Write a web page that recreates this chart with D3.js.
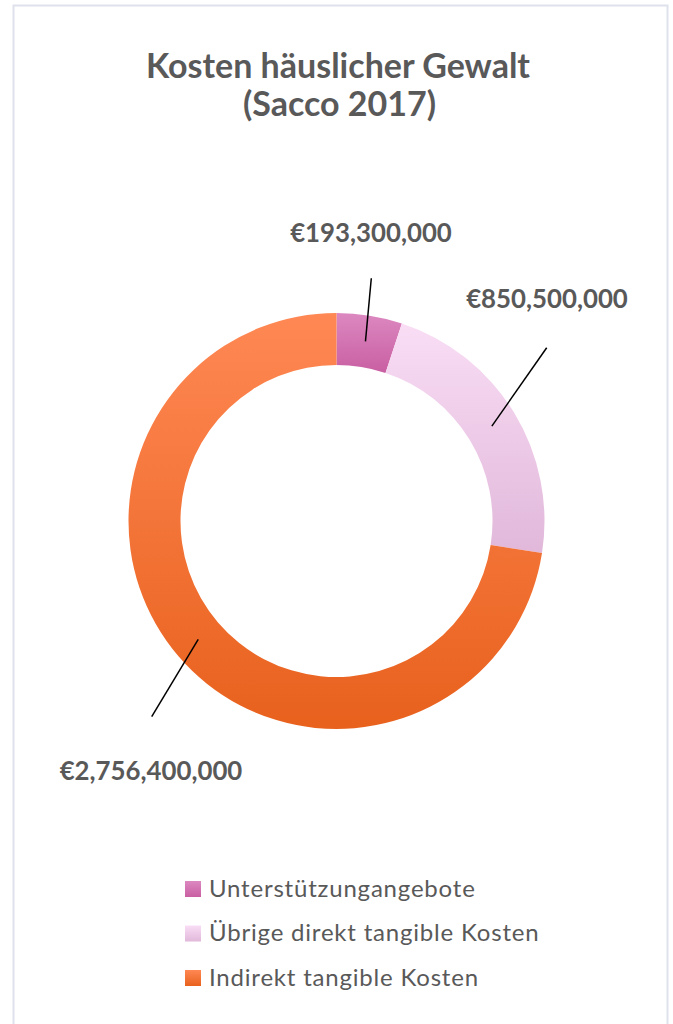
<!DOCTYPE html>
<html>
<head>
<meta charset="utf-8">
<script src="https://cdn.jsdelivr.net/npm/d3@7"></script>
<style>
  html, body { margin: 0; padding: 0; background: #fff; }
  svg { display: block; }
</style>
</head>
<body>
<svg id="chart" width="673" height="1024"></svg>
<script>
// ---- data ----
const categories = ["Unterstützungangebote", "Übrige direkt tangible Kosten", "Indirekt tangible Kosten"];
const values = [193300000, 850500000, 2756400000];
const valueLabels = ["€193,300,000", "€850,500,000", "€2,756,400,000"];
const titleLines = ["Kosten häuslicher Gewalt", "(Sacco 2017)"];
const gradientStops = [
  ["#DC88C0", "#C95FA2"],
  ["#F9DDF5", "#E1B8DA"],
  ["#FF8854", "#E8611D"]
];

// ---- layout ----
const W = 673, H = 1024;
const cx = 336.5, cy = 521;
const outerR = 208, innerR = 156;
const labelPos = [ [371, 242], [547, 308], [151, 780] ];   // label anchor (centre x, baseline y)
const lineEnds = [ [371.3, 278.3], [546.7, 347.7], [151.7, 716.7] ];

const svg = d3.select("#chart");
const defs = svg.append("defs");

// border
svg.append("rect")
  .attr("x", 13.5).attr("y", 5.5)
  .attr("width", 654).attr("height", 1030)
  .attr("fill", "#fff")
  .attr("stroke", "#DDE2EB").attr("stroke-width", 2);

// gradients
gradientStops.forEach((s, i) => {
  const g = defs.append("linearGradient")
    .attr("id", "grad" + i)
    .attr("x1", 0).attr("y1", 0).attr("x2", 0).attr("y2", 1);
  g.append("stop").attr("offset", "0%").attr("stop-color", s[0]);
  g.append("stop").attr("offset", "100%").attr("stop-color", s[1]);
});

// title
const title = svg.append("text")
  .attr("text-anchor", "middle")
  .attr("font-family", "Lato, 'Open Sans', sans-serif")
  .attr("font-weight", "bold")
  .attr("font-size", 34)
  .attr("fill", "#595959");
title.append("tspan").attr("x", 338).attr("y", 78).text(titleLines[0]);
title.append("tspan").attr("x", 339.5).attr("y", 116).text(titleLines[1]);

// donut
const pie = d3.pie().sort(null).value(d => d);
const arcs = pie(values);
const arc = d3.arc().innerRadius(innerR).outerRadius(outerR);

const g = svg.append("g").attr("transform", `translate(${cx},${cy})`);
g.selectAll("path.slice")
  .data(arcs)
  .join("path")
  .attr("class", "slice")
  .attr("d", arc)
  .attr("fill", (d, i) => `url(#grad${i})`);

// leader lines from centroid
g.selectAll("line.leader")
  .data(arcs)
  .join("line")
  .attr("class", "leader")
  .attr("x1", d => arc.centroid(d)[0])
  .attr("y1", d => arc.centroid(d)[1])
  .attr("x2", (d, i) => lineEnds[i][0] - cx)
  .attr("y2", (d, i) => lineEnds[i][1] - cy)
  .attr("stroke", "#000")
  .attr("stroke-width", 1.5);

// value labels
svg.selectAll("text.vlabel")
  .data(valueLabels)
  .join("text")
  .attr("class", "vlabel")
  .attr("x", (d, i) => labelPos[i][0])
  .attr("y", (d, i) => labelPos[i][1])
  .attr("text-anchor", "middle")
  .attr("font-family", "Lato, 'Open Sans', sans-serif")
  .attr("font-weight", "bold")
  .attr("font-size", 25.8)
  .attr("fill", "#595959")
  .text(d => d);

// legend
const legend = svg.append("g").attr("transform", "translate(185,881)");
const rowH = 44.5;
const items = legend.selectAll("g.item")
  .data(categories)
  .join("g")
  .attr("class", "item")
  .attr("transform", (d, i) => `translate(0,${i * rowH})`);
items.append("rect")
  .attr("width", 16).attr("height", 16)
  .attr("fill", (d, i) => `url(#grad${i})`);
items.append("text")
  .attr("x", 24).attr("y", 15.5)
  .attr("font-family", "Lato, 'Open Sans', sans-serif")
  .attr("font-size", 24)
  .attr("letter-spacing", 0.8)
  .attr("fill", "#595959")
  .text(d => d);
</script>
</body>
</html>
